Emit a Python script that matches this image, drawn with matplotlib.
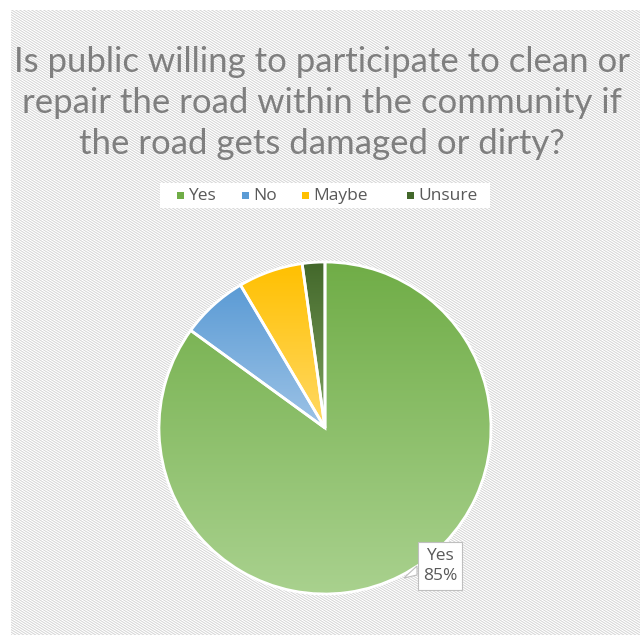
import numpy as np
import matplotlib
matplotlib.use('Agg')
import matplotlib.pyplot as plt
from matplotlib import font_manager
from matplotlib.colors import LinearSegmentedColormap
from matplotlib.patches import Rectangle, Polygon

labels = ['Yes', 'No', 'Maybe', 'Unsure']
values = [85, 6.5, 6.3, 2.2]
top_colors = ['#70AD47', '#5B9BD5', '#FFC000', '#43682B']
bottom_colors = ['#A9D18E', '#9DC3E6', '#FFD966', '#7FA35F']
title = 'Is public willing to participate to clean or\nrepair the road within the community if\nthe road gets damaged or dirty?'

names = {f.name for f in font_manager.fontManager.ttflist}
font = next((n for n in ['Lato', 'Open Sans', 'Roboto'] if n in names), 'DejaVu Sans')
font2 = next((n for n in ['Open Sans', 'Lato'] if n in names), 'DejaVu Sans')

W, H = 640, 635
fig = plt.figure(figsize=(6.4, 6.35), dpi=100)
ax = fig.add_axes([0, 0, 1, 1])

# striped background of the chart area
x0, y0 = 11, 10
xs = np.arange(x0, W)
ys = np.arange(y0, H)
X, Y = np.meshgrid(xs, ys)
v = 0.5 + 0.5 * np.cos(2 * np.pi * (X - 1.6 * Y) / 4.0)
shade = 1 - 0.15 * v
bg = np.dstack([shade, shade, shade])
ax.imshow(bg, extent=(x0, W, 0, H - y0), interpolation='nearest', zorder=0)

cx, cy, r = 325, H - 428, 166
wedges, _ = ax.pie(values, startangle=90, counterclock=False, radius=r,
                   center=(cx, cy), frame=True,
                   wedgeprops=dict(edgecolor='white', linewidth=2))

grad = np.linspace(0, 1, 256).reshape(-1, 1)
for w, c1, c2 in zip(wedges, top_colors, bottom_colors):
    ext = w.get_path().get_extents()
    cmap = LinearSegmentedColormap.from_list('g', [c1, c2])
    im = ax.imshow(grad, cmap=cmap, aspect='auto',
                   extent=(ext.x0, ext.x1, ext.y0, ext.y1), zorder=2)
    im.set_clip_path(w)
    w.set_facecolor('none')
    w.set_zorder(3)

ax.set_xlim(0, W)
ax.set_ylim(0, H)
ax.set_aspect('auto')
ax.axis('off')

fig.text(322 / W, 1 - 103 / H, title, ha='center', va='center',
         fontsize=25, color='#7F7F7F', family=font, linespacing=1.33)

# legend
ax.add_patch(Rectangle((160, H - 208), 330, 25, facecolor='white',
                       edgecolor='none', zorder=1))
leg_x = [177, 242, 302, 407]
for lx, lab, col in zip(leg_x, labels, top_colors):
    ax.add_patch(Rectangle((lx, H - 199), 7, 7, facecolor=col,
                           edgecolor='none', zorder=2))
    ax.text(lx + 11, H - 196, lab, fontsize=12.5, color='#595959',
            va='center', ha='left', family=font2)

# data label callout
ax.add_patch(Polygon([(417, H - 566), (404, H - 578), (417, H - 575)],
                     closed=True, facecolor='white', edgecolor='#BFBFBF',
                     linewidth=0.8, zorder=4))
ax.text(440, H - 566, f'{labels[0]}\n{values[0]:.0f}%', ha='center', va='center',
        fontsize=12.5, color='#595959', linespacing=1.4, zorder=5, family=font2,
        bbox=dict(boxstyle='square,pad=0.3', facecolor='white',
                  edgecolor='#BFBFBF', linewidth=0.8))

fig.savefig('out.png', dpi=100)
